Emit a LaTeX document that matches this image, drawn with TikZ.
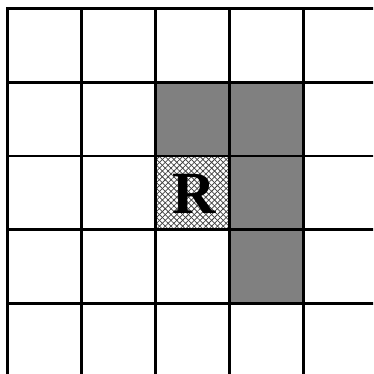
\documentclass[tikz,border=0pt]{standalone}
\usepackage{fontspec}
\setmainfont{Liberation Serif}
\usetikzlibrary{patterns.meta}
\begin{document}
\begin{tikzpicture}[x=1pt,y=-1pt,
  gridline/.style={line width=2.7pt,black,line cap=rect},
  shaded/.style={fill=black!50},
  hatchA/.style={pattern={Lines[angle=45,distance=4.1pt,line width=0.75pt]},pattern color=black!75},
  hatchB/.style={pattern={Lines[angle=-45,distance=4.1pt,line width=0.75pt]},pattern color=black!75},
  label/.style={font=\fontsize{60}{60}\selectfont\bfseries,inner sep=0pt,anchor=base}]
\useasboundingbox (0,0) rectangle (373,374);
\fill[white] (0,0) rectangle (373,374);
\clip (0,0) rectangle (373,374);
% shaded cells
\fill[shaded] (155.5,82.25) rectangle (229.5,156);
\fill[shaded] (229.5,82.25) rectangle (303.5,303.5);
% hatched cell
\fill[hatchA] (155.5,156) rectangle (229.5,229.75);
\fill[hatchB] (155.5,156) rectangle (229.5,229.75);
\node[label] (r) at (194,213) {R};
% grid
\foreach \gx in {7.5,81.5,155.5,229.5,303.5}
  \draw[gridline] (\gx,8.5) -- (\gx,380);
\foreach \gy in {8.5,82.25,156,229.75,303.5}
  \draw[gridline] (7.5,\gy) -- (380,\gy);
\end{tikzpicture}
\end{document}
